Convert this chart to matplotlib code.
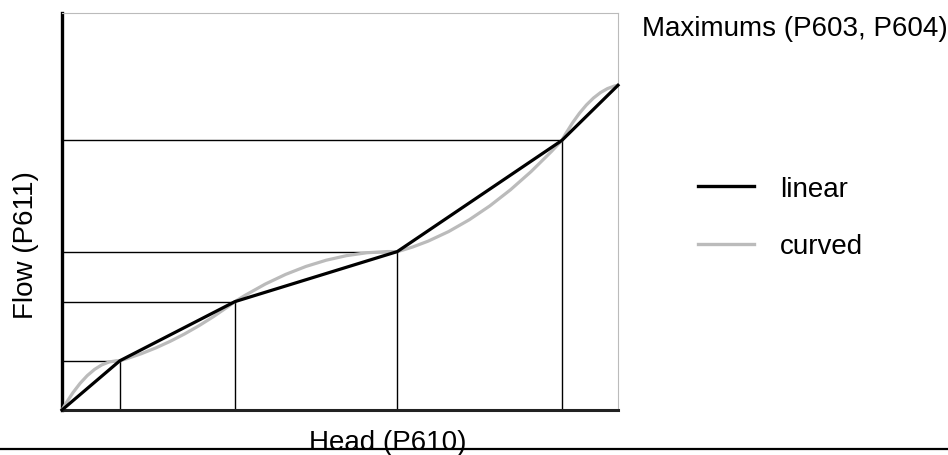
import numpy as np
import matplotlib
matplotlib.use('Agg')
import matplotlib.pyplot as plt
from matplotlib.path import Path
from matplotlib.patches import PathPatch
from matplotlib.lines import Line2D

plt.rcParams['font.family'] = ['Liberation Sans', 'DejaVu Sans']

# breakpoints of the head/flow characteristic (axis span = 0..100)
head = [0, 10.4, 31.1, 60.3, 89.9, 100]
flow = [0, 12.4, 27.3, 39.9, 67.9, 81.8]
# how far each curved segment bows away from the straight one (flow units)
curve_bow = [6.6, -3.3, 6.8, -8.6, 5.8]

legend_labels = ['linear', 'curved']

fig = plt.figure(figsize=(9.48, 4.56), dpi=100)
ax = fig.add_axes([62 / 948, 45 / 456, 556 / 948, 397 / 456])
ax.set_xlim(0, 100)
ax.set_ylim(0, 100)
ax.set_xticks([])
ax.set_yticks([])

for side in ['top', 'right']:
    ax.spines[side].set_color('#bbbbbb')
    ax.spines[side].set_linewidth(0.8)
ax.spines['left'].set_color('black')
ax.spines['left'].set_linewidth(2.4)
ax.spines['bottom'].set_color('#222222')
ax.spines['bottom'].set_linewidth(2.2)

# guide lines from the inner breakpoints to both axes
for x, y in zip(head[1:-1], flow[1:-1]):
    ax.plot([0, x], [y, y], color='black', lw=1.0, zorder=2)
    ax.plot([x, x], [0, y], color='black', lw=1.0, zorder=2)

# curved characteristic: one quadratic bezier per segment
verts = [(head[0], flow[0])]
codes = [Path.MOVETO]
for i, bow in enumerate(curve_bow):
    mx = (head[i] + head[i + 1]) / 2
    my = (flow[i] + flow[i + 1]) / 2 + bow
    verts += [(mx, my), (head[i + 1], flow[i + 1])]
    codes += [Path.CURVE3, Path.CURVE3]
ax.add_patch(PathPatch(Path(verts, codes), fill=False, edgecolor='#bbbbbb',
                       lw=2.3, zorder=3, clip_on=False))
curved_handle = Line2D([], [], color='#bbbbbb', lw=2.4)

lin, = ax.plot(head, flow, color='black', lw=2.3, zorder=4, clip_on=False)
lin_handle = Line2D([], [], color='black', lw=2.4)

fig.legend([lin_handle, curved_handle], legend_labels, loc='upper left',
           bbox_to_anchor=(698 / 948, 1 - 177 / 456), frameon=False,
           fontsize=20, handlelength=2.0, handletextpad=0.95,
           labelspacing=1.13, borderpad=0, borderaxespad=0)

fig.text(642 / 948, 1 - 36 / 456, 'Maximums (P603, P604)', fontsize=20,
         ha='left', va='baseline')
fig.text(388 / 948, 1 - 450 / 456, 'Head (P610)', fontsize=20,
         ha='center', va='baseline')
fig.text(26 / 948, 1 - 245 / 456, 'Flow (P611)', fontsize=20,
         rotation=90, ha='center', va='center')

fig.add_artist(Line2D([0, 1], [1 - 449.5 / 456] * 2, color='black', lw=1.6,
                      transform=fig.transFigure))

fig.savefig('out.png', dpi=100)
